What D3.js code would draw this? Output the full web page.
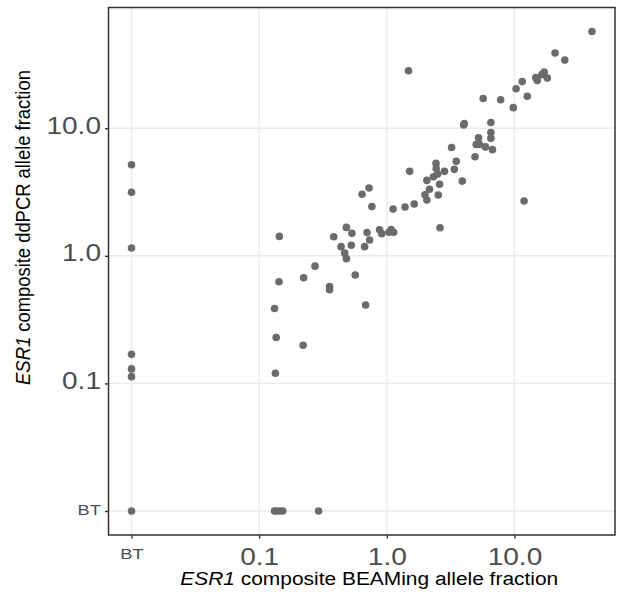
<!DOCTYPE html>
<html>
<head>
<meta charset="utf-8">
<script src="https://cdn.jsdelivr.net/npm/d3@7"></script>
<style>
  html, body { margin: 0; padding: 0; background: #fff; }
  svg { display: block; }
</style>
</head>
<body>
<svg id="chart" width="621" height="603"></svg>
<script>
// "BT" = below threshold, drawn at 0.01 on both log axes
const BT = "BT";
const BT_VALUE = 0.01;

const beaming = [
  40.5, 20.8, 24.8, 1.48, 11.5, 10.3, 12.6, 17.1, 14.7, 15.1, 16.4, 18.1,
  5.69, 7.80, 9.80, 4.00, 4.05, 6.54, 6.54, 6.54, 5.23, 5.02, 5.33, 5.93, 6.73,
  3.22, 4.91, 3.50, 2.43, 2.44, 1.51, 3.38, 2.83, 2.50, 2.32, 2.06, 3.90, 2.59,
  2.16, 1.99, 2.53, 2.06, 11.9, 0.64, 0.726, 0.764, 1.12, 1.39, 1.64, 2.61,
  0.482, 0.533, 0.70, 0.877, 0.914, 1.08, 1.13, 1.04, 0.733, 0.67, 0.527, 0.438,
  0.468, 0.482, 0.384, 0.144, 0.274, 0.223, 0.143, 0.566, 0.356, 0.356, 0.683,
  0.132, 0.136, 0.221, 0.134,
  BT, BT, BT, BT, BT, BT, BT,
  0.132, 0.137, 0.145, 0.153, 0.292
];

const ddpcr = [
  57.3, 38.9, 34.2, 28.2, 23.2, 20.4, 17.8, 27.5, 24.9, 23.7, 26.3, 24.7,
  17.1, 16.7, 14.5, 10.6, 10.9, 11.1, 9.25, 8.35, 8.40, 7.46, 7.46, 7.14, 6.79,
  7.07, 5.97, 5.50, 5.30, 4.83, 4.59, 4.76, 4.59, 4.37, 4.17, 3.90, 3.85, 3.64,
  3.32, 3.01, 3.00, 2.74, 2.69, 3.04, 3.40, 2.43, 2.33, 2.41, 2.55, 1.66,
  1.67, 1.50, 1.52, 1.60, 1.49, 1.61, 1.53, 1.53, 1.33, 1.18, 1.21, 1.18,
  1.05, 0.95, 1.41, 1.42, 0.83, 0.673, 0.627, 0.708, 0.575, 0.542, 0.412,
  0.387, 0.229, 0.199, 0.120,
  5.17, 3.15, 1.15, 0.169, 0.130, 0.113, BT,
  BT, BT, BT, BT, BT
];

const tickValues = [BT_VALUE, 0.1, 1, 10];
const tickLabels = ["BT", "0.1", "1.0", "10.0"];
const xTitleItalic = "ESR1";
const xTitleRest = " composite BEAMing allele fraction";
const yTitleItalic = "ESR1";
const yTitleRest = " composite ddPCR allele fraction";

const toNum = v => (v === BT ? BT_VALUE : v);
const points = beaming.map((b, i) => ({ x: toNum(b), y: toNum(ddpcr[i]) }));

const panel = { left: 108.5, top: 7.5, right: 615, bottom: 535 };

function expandedLogDomain(vals) {
  const lo = Math.log10(d3.min(vals)), hi = Math.log10(d3.max(vals));
  const pad = (hi - lo) * 0.05;
  return [Math.pow(10, lo - pad), Math.pow(10, hi + pad)];
}

const x = d3.scaleLog().domain(expandedLogDomain(points.map(p => p.x)))
  .range([panel.left, panel.right]);
const y = d3.scaleLog().domain(expandedLogDomain(points.map(p => p.y)))
  .range([panel.bottom, panel.top]);

const svg = d3.select("#chart");
const FONT = "'Liberation Sans', Arial, Helvetica, sans-serif";
const STRETCH_TICK = 1.22;  // reference text is horizontally wide
const STRETCH_TITLE = 1.09;

// grid
const grid = svg.append("g");
grid.selectAll("line.gx").data(tickValues).join("line")
  .attr("x1", d => x(d)).attr("x2", d => x(d))
  .attr("y1", panel.top).attr("y2", panel.bottom)
  .attr("stroke", "#ebebeb").attr("stroke-width", 1.4);
grid.selectAll("line.gy").data(tickValues).join("line")
  .attr("y1", d => y(d)).attr("y2", d => y(d))
  .attr("x1", panel.left).attr("x2", panel.right)
  .attr("stroke", "#ebebeb").attr("stroke-width", 1.4);

// points
svg.append("g").selectAll("circle").data(points).join("circle")
  .attr("cx", d => x(d.x)).attr("cy", d => y(d.y)).attr("r", 3.8)
  .attr("fill", "#6b6b6b");

// axes
const fmt = d => tickLabels[tickValues.indexOf(d)];
const xAxis = svg.append("g").attr("transform", `translate(0,${panel.bottom})`)
  .call(d3.axisBottom(x).tickValues(tickValues).tickFormat(fmt).tickSize(3.5).tickPadding(10));
const yAxis = svg.append("g").attr("transform", `translate(${panel.left},0)`)
  .call(d3.axisLeft(y).tickValues(tickValues).tickFormat(fmt).tickSize(3.5).tickPadding(4));
[xAxis, yAxis].forEach(a => {
  a.select(".domain").remove();
  a.selectAll(".tick line").attr("stroke", "#333").attr("stroke-width", 1.4);
  a.selectAll(".tick text").attr("fill", "#4d4d4d").attr("font-family", FONT)
    .attr("font-size", d => (d === BT_VALUE ? 15 : 23))
    .each(function () {
      const t = d3.select(this);
      const tx = +t.attr("x") || 0, ty = +t.attr("y") || 0;
      t.attr("x", 0).attr("y", 0)
        .attr("transform", `translate(${tx},${ty}) scale(${STRETCH_TICK},1)`);
    });
});
yAxis.selectAll(".tick text").attr("dy", "0.22em");

// panel border
svg.append("rect")
  .attr("x", panel.left).attr("y", panel.top)
  .attr("width", panel.right - panel.left).attr("height", panel.bottom - panel.top)
  .attr("fill", "none").attr("stroke", "#333").attr("stroke-width", 1.5);

// titles
const xt = svg.append("text")
  .attr("transform", `translate(${(panel.left + panel.right) / 2 + 7.5},584.5) scale(${STRETCH_TITLE},1)`)
  .attr("text-anchor", "middle").attr("font-family", FONT).attr("font-size", 19.2).attr("fill", "#000");
xt.append("tspan").attr("font-style", "italic").text(xTitleItalic);
xt.append("tspan").text(xTitleRest);

const yt = svg.append("text")
  .attr("transform", `translate(30,227.5) scale(${STRETCH_TITLE},1) rotate(-90)`)
  .attr("text-anchor", "middle").attr("font-family", FONT).attr("font-size", 18.4).attr("fill", "#000");
yt.append("tspan").attr("font-style", "italic").text(yTitleItalic);
yt.append("tspan").text(yTitleRest);
</script>
</body>
</html>
